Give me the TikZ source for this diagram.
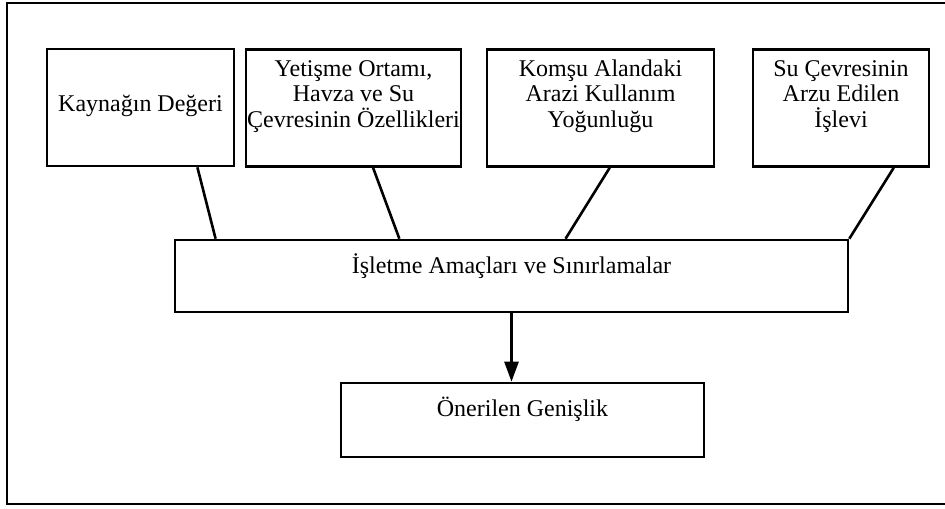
\documentclass[tikz,border=0pt]{standalone}
\usepackage{fontspec}
\setmainfont{Liberation Serif}
\usetikzlibrary{arrows.meta,calc}
\newcommand\bxt[4]{\begin{minipage}[c][#2][t]{#1}\centering\fontsize{12}{12.75}\selectfont\rule{0pt}{#3}#4\end{minipage}}
\begin{document}
\begin{tikzpicture}[x=0.5pt,y=-0.5pt,
  box/.style={draw, line width=1.3pt, rectangle, inner sep=0pt},
  link/.style={line width=1.3pt},
  frameline/.style={line width=1.4pt}]
\useasboundingbox (0,0) rectangle (945,508);
\draw[frameline] (945,3) -- (7,3) -- (7,504) -- (945,504);

\node[box] (b1) at (140.5,107.5) {\bxt{93.5pt}{58.5pt}{31.3pt}{Kaynağın Değeri}};
\node[box] (b2) at (353.5,108) {\bxt{107.5pt}{58.5pt}{13.3pt}{Yetişme Ortamı,\\ Havza ve Su\\ Çevresinin Özellikleri}};
\node[box] (b3) at (600.5,108) {\bxt{113.5pt}{58.5pt}{13.3pt}{Komşu Alandaki\\ Arazi Kullanım\\ Yoğunluğu}};
\node[box] (b4) at (841,108) {\bxt{88pt}{58.5pt}{13.3pt}{Su Çevresinin\\ Arzu Edilen\\ İşlevi}};
\node[box] (main) at (511.5,276) {\bxt{336.5pt}{36pt}{16.5pt}{İşletme Amaçları ve Sınırlamalar}};
\node[box] (res) at (522.5,420) {\bxt{181.5pt}{37pt}{16.8pt}{Önerilen Genişlik}};

\draw[link] ($(b1.south west)!0.80!(b1.south east)$) -- ($(main.north west)!0.062!(main.north east)$);
\draw[link] ($(b2.south west)!0.59!(b2.south east)$) -- ($(main.north west)!0.334!(main.north east)$);
\draw[link] ($(b3.south west)!0.54!(b3.south east)$) -- ($(main.north west)!0.58!(main.north east)$);
\draw[link] ($(b4.south west)!0.795!(b4.south east)$) -- (main.north east);
\draw[link, -{Triangle[width=7pt,length=10pt]}] (main.south) -- (main.south |- res.north);
\end{tikzpicture}
\end{document}
